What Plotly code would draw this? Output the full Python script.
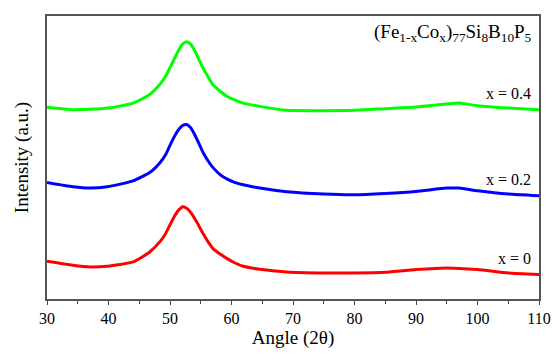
import plotly.graph_objects as go

# Angle (2θ) sample points and intensities (a.u.)
angle_x0 = [30, 34.2, 37, 39.8, 44, 46.7, 48.4, 49.3, 50, 50.7, 51.4, 52.1, 52.8, 53.5, 54.3, 55.4, 56.2, 57, 58.2, 59.3, 60.5, 61.9, 64.6, 69, 75, 80, 85, 90, 95, 100, 105, 110]
int_x0 = [38, 34, 32.3, 33, 37.3, 47.3, 58, 66, 74.7, 83, 89.5, 93, 91, 86, 78, 65.7, 57.5, 50.7, 45, 40.7, 36.5, 33, 30, 27.3, 26.3, 26.3, 27, 29.7, 31.3, 29.7, 26.3, 24.7]

angle_x02 = [30, 34.2, 37, 39.8, 44, 46.7, 48.4, 49.3, 50, 50.7, 51.4, 52, 52.7, 53.3, 53.9, 54.6, 55.4, 56.2, 57, 58.2, 59.3, 60.5, 61.9, 64.6, 69, 75, 80, 85, 90, 95, 97, 100, 105, 110]
int_x02 = [117.3, 113, 111.7, 113, 119, 127.3, 137.5, 145.5, 154.7, 163.5, 170.5, 174.5, 175.7, 173, 167, 158, 147.3, 139, 132.3, 125, 120.7, 117.5, 115, 111.7, 108, 105.7, 105, 106.3, 108.3, 111.7, 111.7, 109, 105.7, 104]

angle_x04 = [30, 34, 37, 40, 44, 46.7, 48.4, 49.3, 50, 50.7, 51.4, 52, 52.7, 53.3, 53.9, 54.6, 55.4, 56.2, 57, 58.2, 59.3, 60.5, 61.9, 64.6, 69, 75, 80, 85, 90, 95, 97, 100, 105, 110]
int_x04 = [193, 190.7, 191, 192.3, 197.3, 206, 216.5, 224.5, 233, 242, 250.5, 256.5, 259, 257, 251.5, 242.5, 232.3, 223.5, 215.7, 209, 204, 200.5, 197.3, 194, 190, 189.7, 190, 191.7, 193.3, 196.3, 197.3, 194.7, 192.3, 190.7]

series_labels = ["x = 0", "x = 0.2", "x = 0.4"]
x_ticks = [30, 40, 50, 60, 70, 80, 90, 100, 110]

FONT = "Liberation Serif, Times New Roman, serif"

fig = go.Figure()
for ax, iy, col in [(angle_x0, int_x0, "#ff0000"),
                    (angle_x02, int_x02, "#0000ff"),
                    (angle_x04, int_x04, "#00ff00")]:
    fig.add_trace(go.Scatter(x=ax, y=iy, mode="lines",
                             line=dict(color=col, width=3, shape="spline", smoothing=0.5),
                             showlegend=False, hoverinfo="skip"))

# series labels
for txt, yv in zip(series_labels, [41, 120, 207]):
    fig.add_annotation(x=109, y=yv, xref="x", yref="y", text=txt, showarrow=False,
                       xanchor="right", yanchor="middle",
                       font=dict(family=FONT, size=16, color="black"))

fig.add_annotation(x=109.2, y=268, xref="x", yref="y",
                   text="(Fe<sub>1-x</sub>Co<sub>x</sub>)<sub>77</sub>Si<sub>8</sub>B<sub>10</sub>P<sub>5</sub>",
                   showarrow=False, xanchor="right", yanchor="middle",
                   font=dict(family=FONT, size=19, color="black"))

# page body has an 8px margin: figure is sized so the plot area lands where the reference has it
fig.update_layout(
    width=551, height=349,
    margin=dict(l=39, r=20, t=6, b=58),
    paper_bgcolor="white", plot_bgcolor="white",
    font=dict(family=FONT, size=16, color="black"),
)
fig.update_xaxes(range=[30, 110], tickvals=x_ticks, ticks="outside", ticklen=4, tickwidth=1,
                 tickcolor="#444", showline=True, linecolor="#555", linewidth=1.5, mirror=True,
                 showgrid=False, zeroline=False,
                 minor=dict(dtick=5, ticks="outside", ticklen=3, tickcolor="#444", showgrid=False),
                 title=dict(text="Angle (2θ)", font=dict(family=FONT, size=19), standoff=3),
                 tickfont=dict(family=FONT, size=16))
fig.update_yaxes(range=[0, 285], showticklabels=False, ticks="", showline=True,
                 linecolor="#555", linewidth=1.5, mirror=True, showgrid=False, zeroline=False,
                 title=dict(text="Intensity (a.u.)", font=dict(family=FONT, size=19), standoff=12))

fig.write_html("out.html")
